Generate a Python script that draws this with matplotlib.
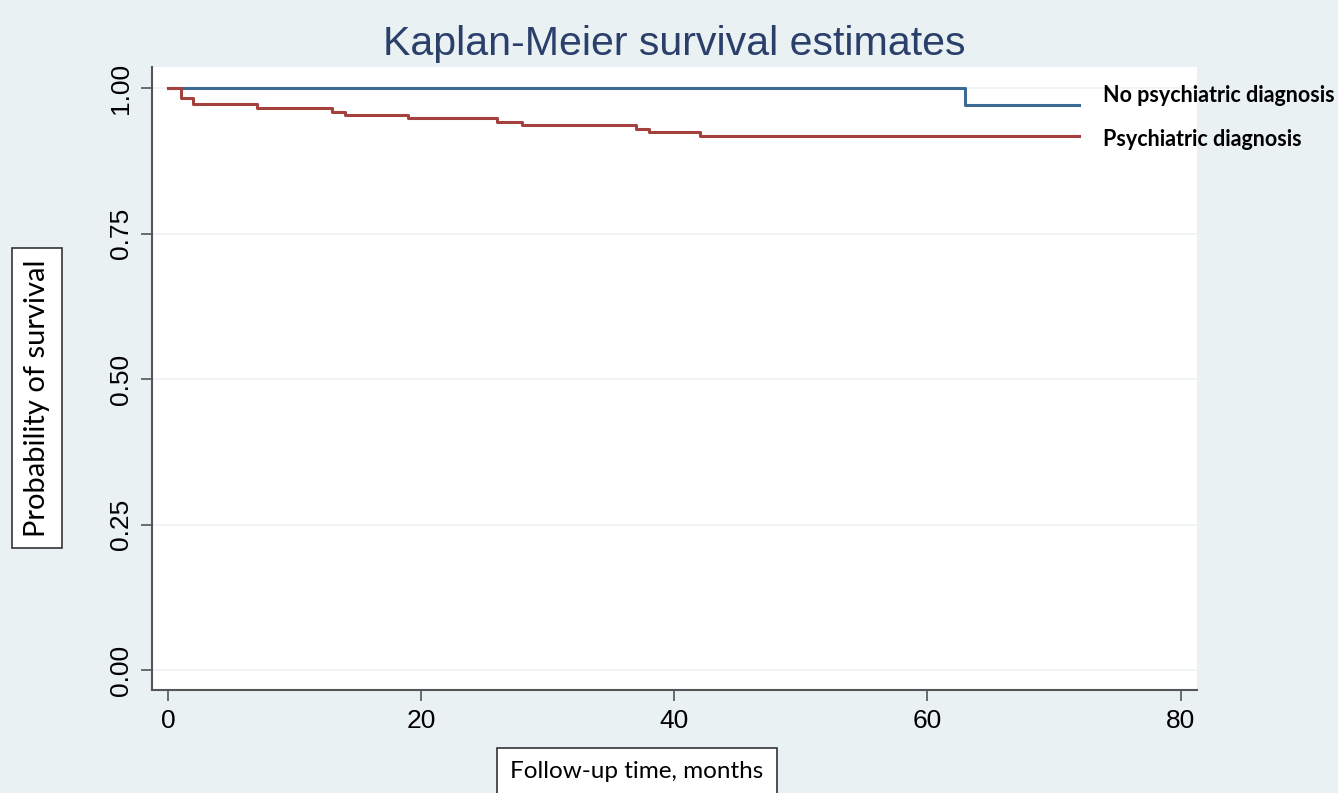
import matplotlib
matplotlib.use("Agg")
import matplotlib.pyplot as plt

# Kaplan-Meier step data (months, survival probability)
no_psych_t = [0, 63, 72]
no_psych_s = [1.0, 0.971, 0.971]

psych_t = [0, 1, 2, 7, 13, 14, 19, 26, 28, 37, 38, 42, 72]
psych_s = [1.0, 0.983, 0.972, 0.965, 0.959, 0.954, 0.948, 0.942, 0.936,
           0.930, 0.924, 0.918, 0.918]

series_labels = ["No psychiatric diagnosis", "Psychiatric diagnosis"]
x_ticks = [0, 20, 40, 60, 80]
y_ticks = [0.00, 0.25, 0.50, 0.75, 1.00]

bg = "#e9f1f2"
blue = "#3d6995"
red = "#a4413f"

fig = plt.figure(figsize=(13.38, 7.93), dpi=100, facecolor=bg)
ax = fig.add_axes([0.1136, 0.1299, 0.7810, 0.7856])
ax.set_facecolor("white")

for y in y_ticks:
    ax.axhline(y, color="#eef2f2", lw=1.2, zorder=0)

ax.step(no_psych_t, no_psych_s, where="post", color=blue, lw=2.2)
ax.step(psych_t, psych_s, where="post", color=red, lw=2.2)

ax.set_xlim(-1.26, 81.3)
ax.set_ylim(-0.034, 1.036)

ax.set_xticks(x_ticks)
ax.set_yticks(y_ticks)
ax.set_xticklabels([str(v) for v in x_ticks], family="Liberation Sans", fontsize=19)
ax.set_yticklabels(["%.2f" % v for v in y_ticks], family="Liberation Sans",
                   fontsize=19, rotation=90, va="center")
ax.tick_params(direction="out", length=8, width=1.2, color="#555555", pad=6)

for s in ["top", "right"]:
    ax.spines[s].set_visible(False)
for s in ["left", "bottom"]:
    ax.spines[s].set_color("#555555")
    ax.spines[s].set_linewidth(1.5)

ax.set_title("Kaplan-Meier survival estimates", family="Liberation Sans",
             fontsize=29.6, color="#2b3f6b", pad=9)

# curve labels at right end
fig.text(1103 / 1338, 1 - 95 / 793, series_labels[0], family="Lato",
         fontweight="bold", fontsize=15.5, va="center", ha="left")
fig.text(1103 / 1338, 1 - 139 / 793, series_labels[1], family="Lato",
         fontweight="bold", fontsize=15.5, va="center", ha="left")

fig.text(37 / 1338, 1 - 398 / 793, "Probability of survival", family="Lato",
         fontsize=21, rotation=90, va="center", ha="center",
         bbox=dict(boxstyle="square,pad=0.4", facecolor="white",
                   edgecolor="#333333", lw=1.2))
fig.text(637 / 1338, 1 - 772 / 793, "Follow-up time, months", family="Lato",
         fontsize=17.5, va="center", ha="center",
         bbox=dict(boxstyle="square,pad=0.55", facecolor="white",
                   edgecolor="#333333", lw=1.2))

fig.savefig("out.png", dpi=100, facecolor=bg)
